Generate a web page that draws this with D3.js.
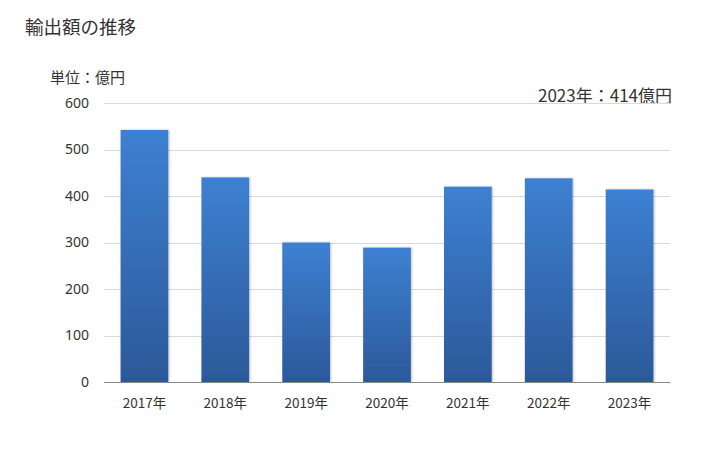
<!DOCTYPE html>
<html><head><meta charset="utf-8">
<script src="https://cdn.jsdelivr.net/npm/d3@7"></script>
<style>body{margin:0;background:#fff;} text{font-family:"Noto Sans CJK JP","Noto Sans",sans-serif;fill:#333;}</style>
</head><body>
<svg id="c" width="728" height="450"></svg>
<script>
const categories = ["2017年","2018年","2019年","2020年","2021年","2022年","2023年"];
const values = [542, 440, 300, 289, 420, 438, 414];
const yTicks = [0,100,200,300,400,500,600];
const title = "輸出額の推移";
const unitLabel = "単位：億円";
const noteLabel = "2023年：414億円";

const svg = d3.select("#c");
const m = {l:104, r:670, t:103, b:382};
const x = d3.scaleBand().domain(categories).range([m.l, m.r]).paddingInner(0.41).paddingOuter(0.205);
const y = d3.scaleLinear().domain([0,600]).range([m.b, m.t]);

const defs = svg.append("defs");
const g = defs.append("linearGradient").attr("id","bg").attr("x1",0).attr("y1",0).attr("x2",0).attr("y2",1);
g.append("stop").attr("offset","0%").attr("stop-color","#3d80d2");
g.append("stop").attr("offset","100%").attr("stop-color","#2c5999");
const f = defs.append("filter").attr("id","sh").attr("x","-20%").attr("y","-20%").attr("width","140%").attr("height","140%");
f.append("feDropShadow").attr("dx",1).attr("dy",0).attr("stdDeviation",1.2).attr("flood-color","#000").attr("flood-opacity",0.25);

svg.append("text").attr("x",25).attr("y",34).attr("font-size",18.5).text(title);
svg.append("text").attr("x",50).attr("y",83).attr("font-size",15).text(unitLabel);
svg.append("text").attr("x",672).attr("y",102).attr("text-anchor","end").attr("font-size",17).text(noteLabel);

// gridlines
svg.append("g").selectAll("line").data(yTicks.filter(d=>d>0)).join("line")
  .attr("x1",m.l).attr("x2",m.r).attr("y1",d=>Math.round(y(d))+0.5).attr("y2",d=>Math.round(y(d))+0.5)
  .attr("stroke","#d9d9d9").attr("stroke-width",1);

// y tick labels
const ya = svg.append("g").attr("transform",`translate(${m.l},0)`)
  .call(d3.axisLeft(y).tickValues(yTicks).tickSize(0).tickPadding(15));
ya.select(".domain").remove();
ya.selectAll("text").attr("font-size",14).style("font-family","'Noto Sans','DejaVu Sans',sans-serif").attr("fill","#333");

// bars
svg.append("g").selectAll("rect").data(values).join("rect")
  .attr("x",(d,i)=>x(categories[i])).attr("width",x.bandwidth())
  .attr("y",d=>y(d)).attr("height",d=>y(0)-y(d))
  .attr("fill","url(#bg)").attr("filter","url(#sh)");

// x axis
const xa = svg.append("g").attr("transform",`translate(0,${Math.round(y(0))+0.5})`)
  .call(d3.axisBottom(x).tickSize(0).tickPadding(16));
xa.select(".domain").attr("stroke","#898989").attr("d",`M${m.l},0H${m.r}`);
xa.selectAll("text").attr("font-size",13.5).attr("fill","#333");
</script>
</body></html>
